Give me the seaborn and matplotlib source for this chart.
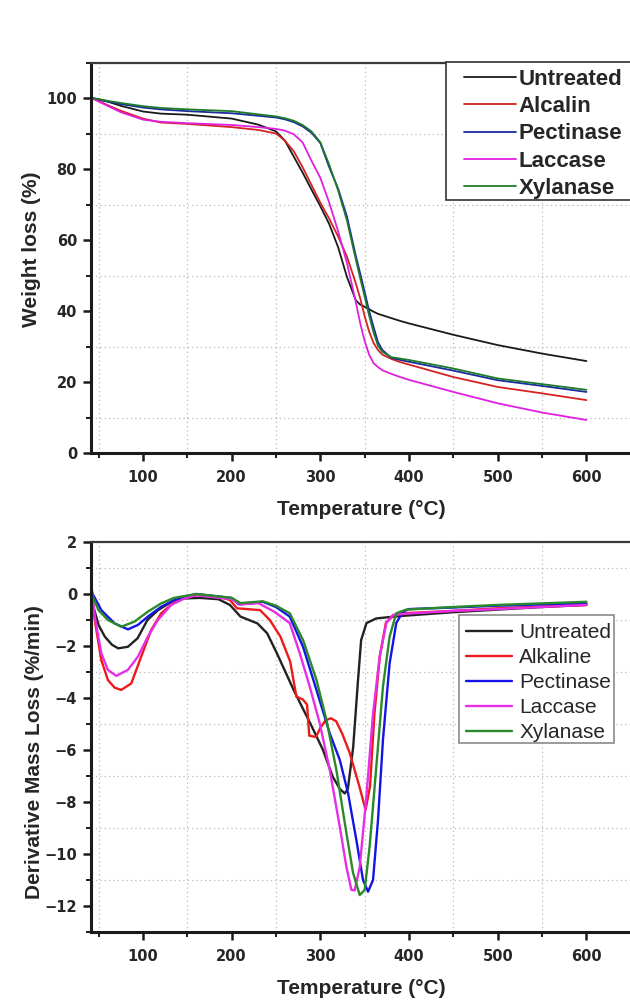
import numpy as np
import pandas as pd
import matplotlib
matplotlib.use("Agg")
import matplotlib.pyplot as plt
from matplotlib.patches import Rectangle
from matplotlib.ticker import MultipleLocator
import seaborn as sns


SAMPLES_TOP = ["Untreated", "Alcalin", "Pectinase", "Laccase", "Xylanase"]
SAMPLES_BOTTOM = ["Untreated", "Alkaline", "Pectinase", "Laccase", "Xylanase"]

COLORS_TOP = ["#1a1a1a", "#d42222", "#1c2a9c", "#e020e0", "#1e7b2a"]
COLORS_BOTTOM = ["#222222", "#ec1a1a", "#1414e6", "#e62ee6", "#2a8a2a"]

# TGA curves (weight %), shared temperature grid
tga_temp = [42, 50, 60, 75, 100, 120, 150, 200, 230, 250, 260, 270, 280, 290, 300,
            310, 320, 330, 340, 345, 350, 355, 360, 365, 370, 380, 390, 400, 450,
            500, 550, 600]
tga_untreated = [100, 99.6, 99, 97.8, 96.2, 95.6, 95.3, 94.2, 92.5, 90.6, 88, 83.5,
                 79, 74.2, 69.5, 64.5, 58, 49.6, 43, 41.8, 41.2, 40.5, 39.8, 39.2,
                 38.8, 38, 37.2, 36.5, 33.3, 30.4, 28, 25.9]
tga_alcalin = [100, 99.2, 98, 96.4, 94.2, 93.1, 92.7, 91.8, 91, 90, 88, 85, 80.5,
               75.5, 70.5, 66, 61, 55.3, 47.8, 43.5, 38.5, 34.2, 31, 29, 27.7, 26.5,
               25.6, 24.9, 21.4, 18.6, 16.8, 14.9]
tga_pectinase = [100, 99.6, 99, 98.3, 97.3, 96.8, 96.3, 95.7, 95, 94.5, 94, 93.2, 92,
                 90.2, 87.3, 80.5, 74.5, 66.6, 55.5, 50.5, 45.3, 40, 35.5, 31.2, 29,
                 26.8, 26.2, 25.7, 23.2, 20.5, 18.9, 17.2]
tga_laccase = [100, 99, 97.8, 96, 93.9, 93.3, 92.9, 92.4, 91.8, 91.3, 90.8, 89.8,
               87.5, 82.3, 77.5, 70.5, 62.5, 53.5, 42.5, 36.5, 31.5, 27.7, 25.3, 24.2,
               23.3, 22.3, 21.4, 20.6, 17.2, 14, 11.4, 9.3]
tga_xylanase = [100, 99.7, 99.2, 98.6, 97.7, 97.2, 96.8, 96.3, 95.4, 94.8, 94.3, 93.6,
                92.4, 90.6, 87.5, 81.2, 74, 65.5, 54.5, 49.2, 44, 38.7, 34, 30.2, 28.5,
                27, 26.6, 26.2, 23.8, 21, 19.4, 17.8]

# DTG curves (%/min), each read on its own temperatures
dtg_untreated_t = [42.6, 45, 50, 57, 65, 72, 83, 94, 105, 117, 132, 147, 164, 185, 198,
                   210, 229, 240, 251, 262, 270, 278, 289, 303, 314, 322, 327.5, 331,
                   337, 342.5, 346, 352, 363, 389, 450, 500, 550, 600]
dtg_untreated = [-0.25, -0.6, -1.2, -1.64, -1.95, -2.09, -2.03, -1.7, -1.0, -0.62, -0.3,
                 -0.17, -0.15, -0.2, -0.42, -0.87, -1.13, -1.51, -2.28, -3.1, -3.7,
                 -4.25, -5.0, -6.0, -7.03, -7.5, -7.67, -7.5, -5.9, -3.3, -1.77, -1.12,
                 -0.94, -0.85, -0.7, -0.6, -0.5, -0.42]
dtg_alkaline_t = [42.6, 45.6, 53, 60.5, 68, 75.5, 86.8, 98, 109.3, 120.6, 135.6, 150.6,
                  162, 185, 198, 206, 232, 243, 255, 266, 273, 280, 285, 287.5, 295,
                  300, 306, 312, 318, 325, 333, 344, 351, 356, 361, 367, 374, 382, 393,
                  450, 500, 550, 600]
dtg_alkaline = [-0.1, -1.0, -2.54, -3.31, -3.6, -3.69, -3.44, -2.41, -1.38, -0.74, -0.3,
                -0.1, -0.04, -0.1, -0.23, -0.55, -0.62, -1.0, -1.64, -2.6, -3.95, -4.05,
                -4.25, -5.45, -5.5, -5.15, -4.85, -4.78, -4.9, -5.4, -6.1, -7.4, -8.3,
                -7.4, -4.6, -2.4, -1.1, -0.85, -0.74, -0.65, -0.55, -0.48, -0.42]
dtg_pectinase_t = [42.6, 53, 68, 83, 94.3, 105.5, 120.6, 135.6, 160, 200, 208, 225,
                   235, 250, 265.5, 280.5, 295.6, 310.6, 321.9, 331.3, 340.6, 348.1,
                   353.8, 359.4, 365, 370.6, 378.1, 385.6, 393, 400, 450, 500, 550, 600]
dtg_pectinase = [0.05, -0.62, -1.13, -1.36, -1.19, -0.87, -0.49, -0.23, 0, -0.15, -0.4,
                 -0.35, -0.3, -0.5, -0.87, -2.03, -3.69, -5.36, -6.38, -7.67, -9.46,
                 -11.0, -11.45, -11.0, -8.7, -5.6, -2.67, -1.12, -0.68, -0.58, -0.52,
                 -0.45, -0.4, -0.35]
dtg_laccase_t = [42.6, 45.6, 53, 60.5, 69.9, 83, 94.3, 105.5, 116.8, 131.8, 146.8, 160,
                 200, 210, 230, 248, 265.5, 276.8, 288, 299.3, 310.6, 321.9, 329.4, 335,
                 338.7, 344.4, 351.9, 359.4, 366.9, 374.4, 381.9, 400, 450, 500, 550, 600]
dtg_laccase = [0.15, -0.87, -2.28, -2.92, -3.15, -2.92, -2.41, -1.64, -1.0, -0.42, -0.17,
               -0.05, -0.2, -0.4, -0.35, -0.68, -1.12, -2.28, -3.56, -4.97, -6.77, -8.95,
               -10.5, -11.38, -11.4, -10.5, -7.8, -4.6, -2.41, -1.12, -0.8, -0.75, -0.65,
               -0.58, -0.5, -0.42]
dtg_xylanase_t = [42.6, 49.8, 60.5, 75.5, 90.5, 105.5, 120.6, 135, 160, 200, 210, 235,
                  250, 265.5, 280.5, 295.6, 306.9, 318.1, 329.4, 336.9, 344.4, 350,
                  355.6, 363.2, 370.6, 378.1, 385.6, 396.9, 450, 500, 550, 600]
dtg_xylanase = [-0.04, -0.62, -1.0, -1.26, -1.06, -0.68, -0.36, -0.15, 0, -0.15, -0.35,
                -0.28, -0.45, -0.74, -1.77, -3.3, -4.85, -6.77, -9.2, -10.73, -11.58,
                -11.38, -9.7, -6.6, -3.56, -1.64, -0.74, -0.6, -0.5, -0.42, -0.36, -0.3]


def long_frame(temps, series, names):
    frames = []
    for t, v, name in zip(temps, series, names):
        frames.append(pd.DataFrame({"Temperature": t, "Value": v, "Sample": name}))
    return pd.concat(frames, ignore_index=True)


def style_axis(ax, xlabel, ylabel, y_major, y_minor, ylabel_pos):
    ax.xaxis.set_major_locator(MultipleLocator(100))
    ax.xaxis.set_minor_locator(MultipleLocator(50))
    ax.yaxis.set_major_locator(MultipleLocator(y_major))
    ax.yaxis.set_minor_locator(MultipleLocator(y_minor))
    ax.grid(False, which="major")
    ax.grid(True, which="minor", linestyle=(0, (1, 2.5)), color="#b8b8b8", linewidth=0.9)
    ax.set_axisbelow(True)
    for side in ["left", "bottom"]:
        ax.spines[side].set_linewidth(2.2)
        ax.spines[side].set_color("#1a1a1a")
    ax.spines["top"].set_linewidth(1.6)
    ax.spines["top"].set_color("#3a3a3a")
    ax.spines["right"].set_visible(False)
    ax.tick_params(which="major", direction="out", length=6, width=1.8, color="#1a1a1a",
                   labelsize=10.5, pad=4, top=False, right=False)
    ax.tick_params(axis="x", which="major", pad=6)
    ax.tick_params(which="minor", direction="out", length=3.5, width=1.4, color="#1a1a1a",
                   top=False, right=False)
    for lab in ax.get_xticklabels() + ax.get_yticklabels():
        lab.set_fontweight("bold")
        lab.set_fontfamily("DejaVu Sans")
    ax.set_xlabel(xlabel, fontsize=15, fontweight="bold")
    ax.set_ylabel(ylabel, fontsize=15, fontweight="bold")
    ax.xaxis.set_label_coords(0.5, -0.12)
    ax.yaxis.set_label_coords(*ylabel_pos)


def legend_box(ax, left, top, right, bottom, y0, y1, color):
    # frame drawn in pixel space of the 630x1000 figure, converted to axes fractions
    x_frac = (left - 91) / 541
    y_lo = (y0 - bottom) / (y0 - y1)
    y_hi = (y0 - top) / (y0 - y1)
    ax.add_patch(Rectangle((x_frac, y_lo), (right - left) / 541, y_hi - y_lo,
                           transform=ax.transAxes, facecolor="white", edgecolor=color,
                           linewidth=1.2, zorder=4, clip_on=False))


sns.set_style("ticks")
plt.rcParams["font.family"] = ["Liberation Sans", "DejaVu Sans"]

fig = plt.figure(figsize=(6.3, 10), dpi=100)
ax1 = fig.add_axes([91 / 630, 1 - 453 / 1000, 541 / 630, 390.5 / 1000])
ax2 = fig.add_axes([91 / 630, 1 - 932 / 1000, 541 / 630, 390 / 1000])

tga = long_frame([tga_temp] * 5,
                 [tga_untreated, tga_alcalin, tga_pectinase, tga_laccase, tga_xylanase],
                 SAMPLES_TOP)
sns.lineplot(data=tga, x="Temperature", y="Value", hue="Sample", hue_order=SAMPLES_TOP,
             palette=COLORS_TOP, sort=False, estimator=None, linewidth=1.3,
             legend=False, ax=ax1)
ax1.set_xlim(41.4, 651.4)
ax1.set_ylim(0, 110)
style_axis(ax1, "Temperature (°C)", "Weight loss (%)", 20, 10, (-0.092, 0.523))

# legend box of the top panel runs off the right edge, as in the original
legend_box(ax1, 446, 62, 700, 200, 453, 62.5, "#333333")
ax1.legend(ax1.get_lines()[:5], SAMPLES_TOP, loc="upper left",
           bbox_to_anchor=((464 - 91) / 541, (453 - 69) / 390.5), borderaxespad=0,
           prop={"weight": "bold", "size": 16}, handlelength=2.35,
           handletextpad=0.12, labelspacing=0.28, borderpad=0, frameon=False)

dtg = long_frame([dtg_untreated_t, dtg_alkaline_t, dtg_pectinase_t, dtg_laccase_t,
                  dtg_xylanase_t],
                 [dtg_untreated, dtg_alkaline, dtg_pectinase, dtg_laccase, dtg_xylanase],
                 SAMPLES_BOTTOM)
sns.lineplot(data=dtg, x="Temperature", y="Value", hue="Sample", hue_order=SAMPLES_BOTTOM,
             palette=COLORS_BOTTOM, sort=False, estimator=None, linewidth=1.7,
             legend=False, ax=ax2)
ax2.set_xlim(41.4, 651.4)
ax2.set_ylim(-13, 2)
style_axis(ax2, "Temperature (°C)", "Derivative Mass Loss (%/min)", 2, 1, (-0.087, 0.462))

legend_box(ax2, 459, 615, 614, 743, 932, 542, "#8a8a8a")
ax2.legend(ax2.get_lines()[:5], SAMPLES_BOTTOM, loc="upper left",
           bbox_to_anchor=((466 - 91) / 541, (932 - 623.5) / 390), borderaxespad=0,
           prop={"size": 15}, handlelength=2.2, handletextpad=0.35,
           labelspacing=0.28, borderpad=0, frameon=False)

fig.savefig("out.png", dpi=100)
